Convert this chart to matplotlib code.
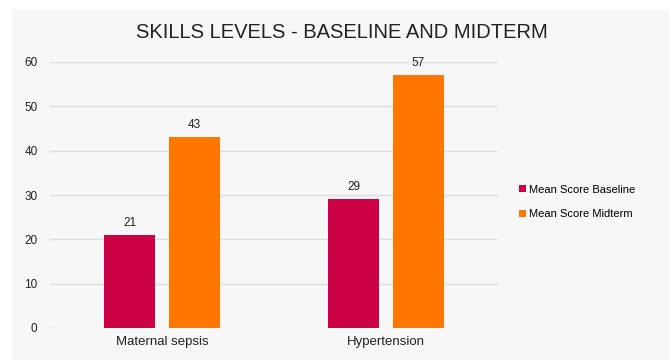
import matplotlib.pyplot as plt
import numpy as np
from matplotlib.patches import Rectangle

plt.rcParams['font.family'] = ['Liberation Sans', 'DejaVu Sans']

# chart data
categories = ["Maternal sepsis", "Hypertension"]
baseline = [21, 29]
midterm = [43, 57]
series_names = ["Mean Score Baseline", "Mean Score Midterm"]

COL_BASE = "#cc0044"
COL_MID = "#ff7700"

fig = plt.figure(figsize=(6.69, 3.6), dpi=100)
fig.patch.set_facecolor("white")
# gray chart panel
fig.patches.append(Rectangle((12 / 669, 0), 1, 1 - 10 / 360, transform=fig.transFigure,
                             facecolor="#f7f7f7", edgecolor="none", zorder=-5))

ax = fig.add_axes([50 / 669, 1 - 328 / 360, 448 / 669, 266 / 360])
ax.set_facecolor("none")

x = np.arange(len(categories))
w = 0.227
off = 0.145
b1 = ax.bar(x - off, baseline, w, color=COL_BASE, label=series_names[0], zorder=3)
b2 = ax.bar(x + off, midterm, w, color=COL_MID, label=series_names[1], zorder=3)

for bars, vals in ((b1, baseline), (b2, midterm)):
    for r, v in zip(bars, vals):
        ax.text(r.get_x() + r.get_width() / 2, v + 1.4, str(v), ha="center", va="bottom",
                fontsize=8.5, color="#222222", zorder=4)

ax.set_xlim(-0.5, 1.5)
ax.set_ylim(0, 60)
ax.set_yticks(range(0, 61, 10))
ax.set_xticks(x)
ax.set_xticklabels(categories, fontsize=9.5, color="#222222")
ax.tick_params(axis="y", labelsize=8.5, colors="#222222", length=0, pad=9)
ax.tick_params(axis="x", length=0, pad=6)
ax.grid(axis="y", color="#dddddd", linewidth=1, zorder=0)
for s in ax.spines.values():
    s.set_visible(False)

fig.text(342 / 669, 1 - 33 / 360, "SKILLS LEVELS - BASELINE AND MIDTERM", ha="center", va="center",
         fontsize=14.5, color="#222222")

fig.legend(handles=[b1, b2], loc="center left", bbox_to_anchor=(509 / 669, 1 - 202 / 360),
           frameon=False, fontsize=8, handlelength=0.6, handleheight=0.6, handletextpad=0.3,
           labelspacing=1.3)

fig.savefig("out.png", dpi=100)
